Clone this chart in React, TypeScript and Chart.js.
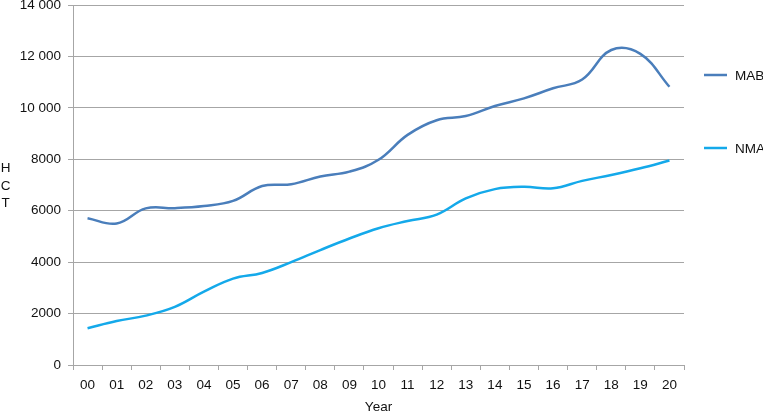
import React, { useEffect, useRef } from 'react';
import { Chart, registerables } from 'chart.js';

Chart.register(...registerables);

const years = ['00', '01', '02', '03', '04', '05', '06', '07', '08', '09', '10', '11', '12', '13', '14', '15', '16', '17', '18', '19', '20'];
const mab = [5710, 5500, 6090, 6100, 6180, 6380, 6960, 7030, 7330, 7520, 7980, 8950, 9520, 9680, 10070, 10370, 10760, 11100, 12250, 12100, 10820];
const nma = [1430, 1710, 1920, 2260, 2850, 3360, 3580, 4000, 4470, 4920, 5320, 5600, 5850, 6480, 6840, 6930, 6870, 7160, 7390, 7650, 7950];
const yTickValues = [0, 2000, 4000, 6000, 8000, 10000, 12000, 14000];
const yTickLabels = ['0', '2000', '4000', '6000', '8000', '10 000', '12 000', '14 000'];
const seriesLabels = ['MAB', 'NMA'];
const seriesColors = ['#4a7ebb', '#14a9ea'];
const yTitle = 'HCT';
const xTitle = 'Year';

const FONT = '"Liberation Sans", Arial, Helvetica, sans-serif';

const sideText = {
  id: 'sideText',
  afterDraw(chart: any) {
    const { ctx, chartArea } = chart;
    ctx.save();
    ctx.font = `13.5px ${FONT}`;
    ctx.fillStyle = '#111';
    ctx.textAlign = 'center';
    ctx.textBaseline = 'middle';
    const midY = (chartArea.top + chartArea.bottom) / 2 + 1;
    yTitle.split('').forEach((ch, i) => {
      ctx.fillText(ch, 5.5, midY + (i - 1) * 17.5);
    });
    chart.data.datasets.forEach((ds: any, i: number) => {
      const y = chartArea.top + 70 + i * 73;
      const x0 = chartArea.right + 20;
      ctx.strokeStyle = ds.borderColor;
      ctx.lineWidth = 2.5;
      ctx.beginPath();
      ctx.moveTo(x0, y);
      ctx.lineTo(x0 + 23, y);
      ctx.stroke();
      ctx.textAlign = 'left';
      ctx.fillStyle = '#111';
      ctx.fillText(ds.label, x0 + 31, y + 1);
    });
    ctx.restore();
  },
};

export default function App() {
  const ref = useRef<HTMLCanvasElement>(null);
  useEffect(() => {
    document.body.style.margin = '0';
    const canvas = ref.current!;
    const chart = new Chart(canvas, {
      type: 'line',
      data: {
        labels: years,
        datasets: [
          { label: seriesLabels[0], data: mab, borderColor: seriesColors[0], backgroundColor: seriesColors[0], borderWidth: 2.5, pointRadius: 0, tension: 0.4, fill: false },
          { label: seriesLabels[1], data: nma, borderColor: seriesColors[1], backgroundColor: seriesColors[1], borderWidth: 2.5, pointRadius: 0, tension: 0.4, fill: false },
        ],
      },
      options: {
        responsive: false,
        animation: false,
        layout: { padding: { top: 5, right: 79, left: 0, bottom: 0 } },
        plugins: { legend: { display: false }, tooltip: { enabled: false } },
        scales: {
          x: {
            offset: true,
            grid: { offset: true, drawOnChartArea: false, tickLength: 5, color: '#a6a6a6' },
            border: { color: '#a6a6a6' },
            ticks: { color: '#111', font: { family: FONT, size: 13.5 }, padding: 7, maxRotation: 0, autoSkip: false },
            title: { display: true, text: xTitle, color: '#111', font: { family: FONT, size: 13.5 }, padding: { top: 0, bottom: -2 } },
            afterFit: (s: any) => { s.height = 48; s.paddingLeft = 0; s.paddingRight = 0; },
          },
          y: {
            min: 0,
            max: 14000,
            afterBuildTicks: (s: any) => { s.ticks = yTickValues.map((v) => ({ value: v })); },
            grid: { color: '#a6a6a6', tickLength: 5 },
            border: { color: '#a6a6a6' },
            ticks: {
              color: '#111',
              font: { family: FONT, size: 13.5 },
              padding: 7,
              callback: (v: any) => { const i = yTickValues.indexOf(Number(v)); return i >= 0 ? yTickLabels[i] : ''; },
            },
            afterFit: (s: any) => { s.width = 73; s.paddingTop = 0; s.paddingBottom = 0; },
          },
        },
      },
      plugins: [sideText],
    });
    return () => chart.destroy();
  }, []);
  return (
    <div style={{ width: 763, height: 413, position: 'relative', background: '#fff' }}>
      <canvas ref={ref} width={763} height={413} />
    </div>
  );
}
